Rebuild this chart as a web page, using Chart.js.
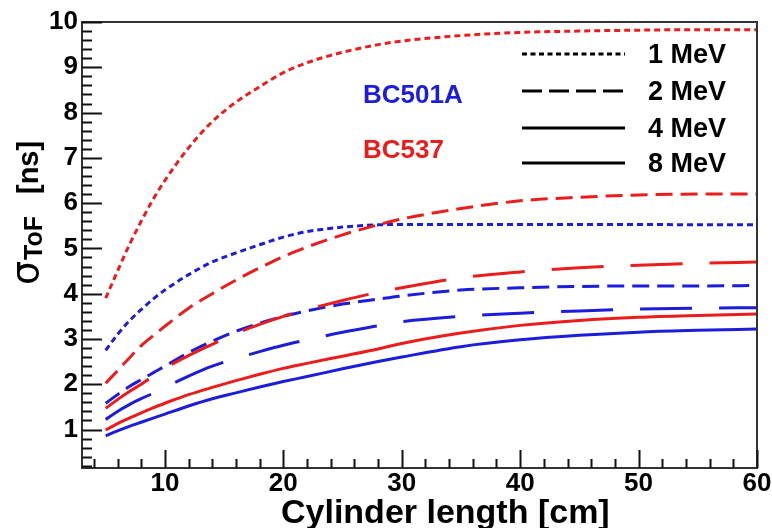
<!DOCTYPE html>
<html>
<head>
<meta charset="utf-8">
<script src="https://cdn.jsdelivr.net/npm/chart.js@4/dist/chart.umd.min.js"></script>
<style>
  html, body { margin: 0; padding: 0; background: #fff; }
  #wrap { width: 772px; height: 528px; }
</style>
</head>
<body>
<div id="wrap"><canvas id="c" width="772" height="528"></canvas></div>
<script>
// Cylinder length (cm) at which the time-of-flight resolution was evaluated
const lengthCm = [5, 6, 7, 8, 9, 10, 12, 14, 16, 18, 20, 22, 25, 28, 30, 35, 40, 45, 50, 55, 60];

// sigma_ToF (ns) for the BC537 scintillator
const bc537_1MeV = [3.90, 4.50, 5.08, 5.60, 6.08, 6.50, 7.22, 7.80, 8.23, 8.57, 8.88, 9.10, 9.33, 9.50, 9.58, 9.70, 9.77, 9.80, 9.82, 9.83, 9.83];
const bc537_2MeV = [2.02, 2.30, 2.58, 2.85, 3.07, 3.28, 3.68, 4.00, 4.30, 4.57, 4.82, 5.03, 5.30, 5.52, 5.65, 5.88, 6.05, 6.13, 6.18, 6.20, 6.20];
const bc537_4MeV = [1.47, 1.66, 1.84, 2.00, 2.18, 2.35, 2.63, 2.88, 3.12, 3.32, 3.50, 3.65, 3.85, 4.03, 4.13, 4.35, 4.48, 4.57, 4.63, 4.67, 4.70];
const bc537_8MeV = [0.99, 1.13, 1.25, 1.37, 1.48, 1.58, 1.77, 1.93, 2.08, 2.22, 2.35, 2.46, 2.62, 2.78, 2.90, 3.13, 3.30, 3.41, 3.48, 3.52, 3.55];

// sigma_ToF (ns) for the BC501A scintillator
const bc501a_1MeV = [2.75, 3.10, 3.40, 3.65, 3.88, 4.08, 4.42, 4.70, 4.90, 5.08, 5.25, 5.37, 5.47, 5.52, 5.53, 5.53, 5.53, 5.53, 5.53, 5.52, 5.52];
const bc501a_2MeV = [1.58, 1.77, 1.95, 2.10, 2.25, 2.40, 2.70, 2.95, 3.17, 3.35, 3.50, 3.62, 3.77, 3.88, 3.95, 4.08, 4.13, 4.16, 4.17, 4.17, 4.18];
const bc501a_4MeV = [1.22, 1.40, 1.55, 1.68, 1.80, 1.93, 2.18, 2.40, 2.57, 2.72, 2.86, 2.98, 3.15, 3.29, 3.38, 3.50, 3.57, 3.62, 3.66, 3.68, 3.69];
const bc501a_8MeV = [0.86, 0.97, 1.07, 1.16, 1.25, 1.34, 1.52, 1.68, 1.81, 1.94, 2.06, 2.17, 2.34, 2.50, 2.60, 2.83, 2.98, 3.08, 3.15, 3.19, 3.22];

// Axis tick labels
const xTickValues = [10, 20, 30, 40, 50, 60];
const yTickValues = [1, 2, 3, 4, 5, 6, 7, 8, 9, 10];

// Legend / annotation text
const energyLabels = ['1 MeV', '2 MeV', '4 MeV', '8 MeV'];
const materialLabels = ['BC501A', 'BC537'];

const RED = '#ec1c1c';
const BLUE = '#1c1cdc';
const FONT = '"Liberation Sans", Arial, Helvetica, sans-serif';

// line style per neutron energy: dotted, dashed, long dashed, solid
const energyDash = [[6, 4], [17, 8], [52, 27], []];
const legendDash = [[5, 3.5], [20, 7], [], []];

function toPoints(ys) { return lengthCm.map((x, i) => ({ x: x, y: ys[i] })); }

function series(label, ys, color, dashIdx) {
  return {
    label: label,
    data: toPoints(ys),
    borderColor: color,
    backgroundColor: color,
    borderWidth: 3,
    borderDash: energyDash[dashIdx],
    borderCapStyle: 'butt',
    pointRadius: 0,
    fill: false,
    cubicInterpolationMode: 'monotone'
  };
}

const datasets = [
  series('BC537 ' + energyLabels[0], bc537_1MeV, RED, 0),
  series('BC537 ' + energyLabels[1], bc537_2MeV, RED, 1),
  series('BC537 ' + energyLabels[2], bc537_4MeV, RED, 2),
  series('BC537 ' + energyLabels[3], bc537_8MeV, RED, 3),
  series('BC501A ' + energyLabels[0], bc501a_1MeV, BLUE, 0),
  series('BC501A ' + energyLabels[1], bc501a_2MeV, BLUE, 1),
  series('BC501A ' + energyLabels[2], bc501a_4MeV, BLUE, 2),
  series('BC501A ' + energyLabels[3], bc501a_8MeV, BLUE, 3)
];

// Frame with inward major/minor ticks on the left and bottom axes
const framePlugin = {
  id: 'frameTicks',
  afterDatasetsDraw(chart) {
    const { ctx, chartArea: a, scales } = chart;
    const xs = scales.x, ys = scales.y;
    ctx.save();
    ctx.strokeStyle = '#333';
    ctx.lineWidth = 2;
    ctx.strokeRect(a.left, a.top, a.right - a.left, a.bottom - a.top);
    ctx.strokeStyle = '#111';
    ctx.beginPath();
    // y ticks: major every 1, minor every 0.2
    for (let k = 1; k <= 50; k++) {
      const v = k * 0.2;
      if (v < ys.min || v > ys.max) continue;
      const py = Math.round(ys.getPixelForValue(v)) + 0.5;
      const major = k % 5 === 0;
      ctx.moveTo(a.left, py);
      ctx.lineTo(a.left + (major ? 20 : 10), py);
    }
    // x ticks: major every 10, minor every 2
    for (let v = 4; v <= 60; v += 2) {
      const px = Math.round(xs.getPixelForValue(v)) + 0.5;
      const major = v % 10 === 0;
      ctx.moveTo(px, a.bottom);
      ctx.lineTo(px, a.bottom - (major ? 18 : 9));
    }
    ctx.stroke();
    ctx.restore();
  },
  afterDraw(chart) {
    const { ctx } = chart;
    ctx.save();
    ctx.fillStyle = '#000';

    // x-axis title
    ctx.font = 'bold 34px ' + FONT;
    ctx.textBaseline = 'alphabetic';
    ctx.textAlign = 'left';
    ctx.fillText('Cylinder length [cm]', 281, 523);

    // y-axis title: sigma with ToF subscript, then unit
    ctx.save();
    ctx.translate(38, 285);
    ctx.rotate(-Math.PI / 2);
    ctx.font = '38px "DejaVu Sans", ' + FONT;
    ctx.fillText('σ', 0, 0);
    const sw = ctx.measureText('σ').width + 1;
    ctx.font = 'bold 25px ' + FONT;
    ctx.fillText('ToF', sw, 4);
    ctx.font = 'bold 29px ' + FONT;
    ctx.fillText('[ns]', 91, 0);
    ctx.restore();

    // material labels
    ctx.font = 'bold 26px ' + FONT;
    ctx.fillStyle = BLUE;
    ctx.fillText(materialLabels[0], 363, 103);
    ctx.fillStyle = RED;
    ctx.fillText(materialLabels[1], 363, 158);

    // energy legend (line style key)
    const rows = [54, 91, 128, 163];
    ctx.strokeStyle = '#000';
    ctx.lineWidth = 3;
    ctx.lineCap = 'butt';
    ctx.fillStyle = '#000';
    ctx.font = 'bold 27px ' + FONT;
    ctx.textBaseline = 'middle';
    rows.forEach((ry, i) => {
      ctx.setLineDash(legendDash[i]);
      ctx.beginPath();
      ctx.moveTo(522, ry);
      ctx.lineTo(625, ry);
      ctx.stroke();
      ctx.fillText(energyLabels[i], 648, ry + 2);
    });
    ctx.setLineDash([]);
    ctx.restore();
  }
};

const tickFont = { family: FONT, size: 26, weight: 'bold' };

new Chart(document.getElementById('c'), {
  type: 'line',
  data: { datasets: datasets },
  options: {
    responsive: false,
    devicePixelRatio: 1,
    animation: false,
    layout: { padding: { top: 22, right: 15, left: 0, bottom: 0 } },
    plugins: { legend: { display: false }, tooltip: { enabled: false } },
    scales: {
      x: {
        type: 'linear',
        min: 3,
        max: 60,
        afterBuildTicks: s => { s.ticks = xTickValues.map(v => ({ value: v })); },
        afterFit: s => { s.height = 60; },
        grid: { display: false, drawTicks: false },
        border: { display: false },
        ticks: { font: tickFont, color: '#000', padding: 0, maxRotation: 0, autoSkip: false }
      },
      y: {
        type: 'linear',
        min: 0.15,
        max: 10,
        afterBuildTicks: s => { s.ticks = yTickValues.map(v => ({ value: v })); },
        afterFit: s => { s.width = 82; },
        grid: { display: false, drawTicks: false },
        border: { display: false },
        ticks: { font: tickFont, color: '#000', padding: 4, autoSkip: false }
      }
    }
  },
  plugins: [framePlugin]
});
</script>
</body>
</html>
